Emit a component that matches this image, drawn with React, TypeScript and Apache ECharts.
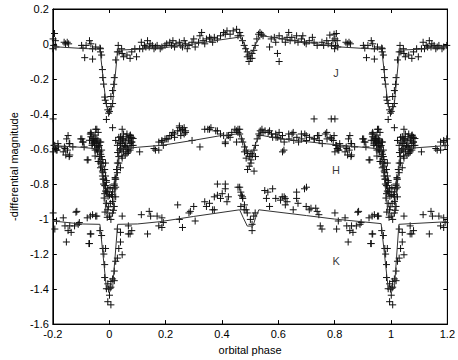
import React, { useEffect, useRef } from "react";
import * as echarts from "echarts";

// phase-folded observations (phase in [0,1)), magnitude
const jObs: [number, number][] = [
  [0.967,-0.023],[0.973,-0.063],[0.976,-0.146],[0.980,-0.229],[0.984,-0.303],[0.990,-0.340],[0.995,-0.376],[0.998,-0.395],
  [0.001,-0.385],[0.006,-0.358],[0.012,-0.340],[0.012,-0.266],[0.018,-0.192],[0.023,-0.091],[0.029,-0.045],[0.032,-0.008],
  [0.990,-0.431],[0.012,-0.478],[0.986,-0.321],[0.977,-0.192],[0.016,-0.230],[0.006,-0.300],[0.969,-0.027],[0.969,-0.045],
  [0.035,-0.045],[0.044,-0.027],[0.046,-0.054],[0.051,-0.073],[0.063,-0.063],[0.074,-0.082],[0.080,-0.045],[0.091,-0.027],
  [0.097,-0.073],[0.108,-0.027],[0.114,0.010],[0.119,-0.027],[0.125,-0.008],[0.130,-0.017],[0.136,0.019],[0.142,-0.017],
  [0.145,0.001],[0.153,-0.008],[0.159,-0.027],[0.164,-0.017],[0.170,-0.008],[0.181,-0.027],[0.187,-0.017],[0.198,-0.008],
  [0.204,0.001],[0.215,0.010],[0.221,-0.008],[0.226,0.019],[0.232,-0.017],[0.237,0.001],[0.249,0.010],[0.254,-0.008],
  [0.260,-0.017],[0.266,0.019],[0.271,0.001],[0.277,-0.027],[0.283,-0.008],[0.294,0.010],[0.300,0.029],[0.305,-0.017],
  [0.317,0.010],[0.322,0.047],[0.328,0.066],[0.333,0.019],[0.339,0.001],[0.345,0.029],[0.356,0.038],[0.361,0.029],
  [0.367,0.010],[0.373,0.038],[0.384,0.029],[0.395,0.047],[0.406,0.066],[0.412,0.056],[0.418,0.075],[0.429,0.056],
  [0.440,0.075],[0.452,0.084],[0.457,0.047],[0.463,0.066],
  [0.467,0.047],[0.473,0.019],[0.479,-0.008],[0.484,-0.027],[0.490,-0.045],[0.496,-0.063],[0.501,-0.082],[0.496,-0.100],
  [0.507,-0.054],[0.513,-0.036],[0.518,-0.008],[0.524,0.029],[0.530,0.056],[0.535,0.066],[0.541,0.056],[0.546,0.047],
  [0.490,-0.073],[0.507,-0.082],
  [0.569,-0.017],[0.575,0.029],[0.586,0.038],[0.597,-0.054],[0.603,-0.100],[0.591,0.010],[0.603,0.047],[0.614,0.029],
  [0.625,0.010],[0.631,0.038],[0.637,0.066],[0.642,0.019],[0.648,0.038],[0.659,0.019],[0.665,0.047],[0.670,0.010],
  [0.682,0.029],[0.687,0.047],[0.693,0.010],[0.699,0.001],[0.710,0.019],[0.721,0.038],[0.727,0.010],[0.738,-0.008],
  [0.755,0.010],[0.761,-0.008],[0.772,0.019],[0.777,0.001],[0.783,0.051],[0.789,-0.008],[0.794,0.019],[0.800,-0.027],
  [0.806,0.060],[0.811,-0.017],[0.798,0.056],[0.801,0.029],[0.809,0.019],[0.803,-0.008],
  [0.840,0.010],[0.845,0.001],[0.851,0.010],[0.856,0.001],[0.902,-0.008],[0.907,-0.023],[0.918,-0.008],[0.930,0.019],
  [0.935,0.001],[0.941,-0.027],[0.952,-0.017],[0.913,-0.078],[0.941,-0.086]
];

const hObs: [number, number][] = [
  [0.727,-0.428],[0.788,-0.428],[0.801,-0.428],
  // primary eclipse walls
  [0.956,-0.542],[0.961,-0.588],[0.967,-0.616],[0.973,-0.643],[0.978,-0.680],[0.984,-0.717],[0.987,-0.754],[0.990,-0.790],
  [0.995,-0.827],[0.001,-0.864],[0.012,-0.873],[0.018,-0.827],[0.021,-0.772],[0.026,-0.717],[0.029,-0.680],[0.034,-0.643],
  [0.037,-0.606],[0.040,-0.569],[0.046,-0.542],[0.051,-0.514],
  [0.939,-0.551],[0.950,-0.542],[0.956,-0.569],[0.961,-0.588],[0.967,-0.560],[0.967,-0.643],[0.973,-0.606],[0.961,-0.671],
  [0.973,-0.698],[0.978,-0.735],[0.978,-0.772],[0.984,-0.809],[0.990,-0.845],[0.987,-0.680],
  [0.023,-0.551],[0.029,-0.579],[0.034,-0.533],[0.040,-0.597],[0.046,-0.569],[0.051,-0.616],[0.057,-0.588],[0.063,-0.625],
  [0.046,-0.652],[0.034,-0.680],[0.029,-0.735],[0.023,-0.772],[0.018,-0.809],[0.012,-0.845],[0.040,-0.707],[0.068,-0.606],
  [0.080,-0.533],[0.074,-0.569],
  [0.935,-0.530],[0.940,-0.570],[0.945,-0.540],[0.950,-0.520],[0.955,-0.600],[0.960,-0.550],[0.965,-0.580],[0.970,-0.630],
  [0.970,-0.560],[0.975,-0.660],[0.930,-0.550],[0.950,-0.640],
  [0.035,-0.560],[0.040,-0.530],[0.045,-0.600],[0.050,-0.550],[0.055,-0.580],[0.060,-0.530],[0.065,-0.600],[0.070,-0.550],
  [0.075,-0.520],[0.080,-0.580],[0.085,-0.540],[0.045,-0.640],[0.030,-0.620],
  [0.976,-0.754],[0.980,-0.800],[0.984,-0.855],[0.990,-0.910],[0.995,-0.947],[0.001,-0.983],[0.006,-1.002],[0.012,-0.965],
  [0.018,-0.928],[0.023,-0.873],[0.023,-0.818],[0.021,-0.763],[0.982,-0.880],[0.987,-0.840],[0.008,-0.860],[0.012,-0.900],
  [0.993,-0.990],[0.015,-0.950],[0.997,-0.930],[0.004,-0.910],[0.985,-0.960],[0.018,-0.800],[0.990,-0.780],[0.003,-0.820],
  [0.996,-0.870],
  [0.936,-0.514],[0.942,-0.542],[0.948,-0.579],[0.953,-0.560],[0.959,-0.606],[0.965,-0.643],[0.970,-0.680],[0.976,-0.726],
  [0.981,-0.772],[0.987,-0.809],[0.993,-0.845],
  // out of eclipse
  [0.046,-0.542],[0.063,-0.514],[0.074,-0.533],[0.080,-0.560],[0.051,-0.597],[0.068,-0.616],[0.057,-0.634],[0.046,-0.487],
  [0.057,-0.560],[0.063,-0.588],[0.068,-0.542],[0.074,-0.523],[0.080,-0.560],[0.074,-0.606],[0.085,-0.579],[0.108,-0.616],
  [0.164,-0.606],[0.176,-0.560],[0.187,-0.551],[0.192,-0.579],[0.159,-0.597],[0.176,-0.606],[0.187,-0.560],[0.198,-0.542],
  [0.209,-0.542],[0.221,-0.523],[0.232,-0.514],[0.243,-0.496],[0.249,-0.478],[0.254,-0.523],[0.260,-0.487],[0.266,-0.478],
  [0.271,-0.496],[0.294,-0.551],[0.322,-0.588],[0.339,-0.487],[0.350,-0.487],[0.361,-0.478],[0.378,-0.496],[0.406,-0.523],
  [0.412,-0.560],[0.423,-0.523],[0.435,-0.505],[0.446,-0.487],[0.457,-0.505],[0.463,-0.487],
  [0.204,-0.542],[0.215,-0.523],[0.226,-0.505],[0.232,-0.533],[0.249,-0.468],[0.254,-0.496],[0.260,-0.487],[0.271,-0.505],
  [0.266,-0.514],[0.356,-0.487],[0.384,-0.496],[0.395,-0.514],[0.412,-0.569],[0.418,-0.523],[0.429,-0.533],[0.452,-0.496],
  // secondary eclipse
  [0.457,-0.487],[0.463,-0.514],[0.469,-0.542],[0.452,-0.560],[0.474,-0.560],[0.480,-0.588],[0.486,-0.606],[0.491,-0.625],
  [0.497,-0.643],[0.503,-0.662],[0.508,-0.634],[0.514,-0.606],[0.519,-0.579],[0.525,-0.542],[0.531,-0.514],[0.536,-0.496],
  [0.542,-0.487],[0.553,-0.496],[0.564,-0.505],[0.576,-0.514],[0.592,-0.533],[0.497,-0.698],[0.491,-0.717],[0.514,-0.726],
  [0.503,-0.680],[0.486,-0.652],[0.519,-0.643],[0.480,-0.616],[0.503,-0.625],
  [0.535,-0.523],[0.546,-0.505],[0.569,-0.496],[0.580,-0.533],[0.591,-0.514],[0.603,-0.505],[0.620,-0.606],[0.637,-0.514],
  [0.653,-0.505],[0.682,-0.514],[0.699,-0.523],[0.727,-0.542],[0.744,-0.523],[0.772,-0.505],[0.789,-0.542],
  [0.598,-0.533],[0.609,-0.542],[0.615,-0.523],[0.621,-0.560],[0.615,-0.616],[0.638,-0.542],[0.649,-0.514],[0.655,-0.551],
  [0.666,-0.533],[0.672,-0.560],[0.683,-0.542],[0.694,-0.514],[0.700,-0.551],[0.711,-0.533],[0.728,-0.542],[0.739,-0.523],
  [0.745,-0.551],[0.756,-0.569],[0.767,-0.514],[0.773,-0.542],[0.784,-0.533],[0.795,-0.551],
  [0.807,-0.579],[0.801,-0.616],[0.812,-0.606],[0.818,-0.569],[0.841,-0.588],[0.846,-0.634],[0.852,-0.606],[0.858,-0.569],
  [0.858,-0.643],[0.903,-0.542],[0.908,-0.560],[0.925,-0.662],
  [0.798,-0.523],[0.804,-0.579],[0.809,-0.597],[0.815,-0.606],[0.820,-0.588],[0.837,-0.616],[0.843,-0.597],[0.849,-0.542],
  [0.854,-0.523],[0.860,-0.569],[0.860,-0.634],[0.871,-0.588],[0.899,-0.542],[0.905,-0.560],[0.911,-0.588],[0.922,-0.662],
  [0.933,-0.514],[0.939,-0.579],[0.945,-0.560],[0.956,-0.487],[0.961,-0.505],[0.950,-0.606],
  [0.935,-0.505],[0.952,-0.487],[0.947,-0.560],[0.958,-0.616],[0.964,-0.671],[0.969,-0.707]
];

const kObs: [number, number][] = [
  [0.801,-0.965],[0.807,-1.057],[0.813,-1.011],[0.837,-0.993],[0.843,-1.039],[0.848,-1.131],[0.854,-1.066],[0.860,-1.039],
  [0.865,-1.076],[0.877,-1.039],[0.882,-0.961],[0.894,-1.020],[0.922,-0.993],[0.928,-1.140],[0.933,-0.983],[0.933,-1.085],
  [0.956,-0.983],[0.967,-1.066],[0.973,-1.094],[0.978,-1.168],[0.984,-1.260],[0.984,-1.334],[0.990,-1.398],[0.995,-1.472],
  [0.001,-1.435],[0.006,-1.490],[0.006,-1.389],[0.012,-1.342],[0.018,-1.297],[0.023,-1.241],[0.029,-1.223],[0.034,-1.168],
  [0.040,-1.131],[0.046,-1.204],[0.040,-1.076],[0.029,-1.057],[0.006,-1.356],[0.995,-1.370],[0.018,-1.352],[0.987,-1.168],
  [0.981,-1.200],[0.998,-1.400],[0.003,-1.395],
  [0.046,-0.983],[0.068,-1.039],[0.074,-1.085],[0.080,-1.066],[0.068,-1.085],[0.114,-0.975],[0.136,-1.085],[0.142,-0.956],
  [0.147,-0.983],[0.170,-0.983],[0.176,-1.039],[0.187,-0.993],[0.192,-1.020],[0.187,-1.048],
  [0.243,-0.919],[0.249,-1.002],[0.260,-1.048],[0.283,-0.965],[0.288,-0.956],[0.300,-0.928],[0.305,-1.011],[0.339,-0.901],
  [0.345,-0.928],[0.356,-0.910],[0.367,-0.947],[0.373,-0.873],[0.384,-0.864],[0.395,-0.882],[0.401,-0.855],[0.412,-0.827],
  [0.418,-0.901],[0.423,-0.873],[0.373,-0.947],[0.384,-0.800],[0.412,-0.800],[0.457,-0.818],
  [0.463,-0.818],[0.469,-0.864],[0.474,-0.882],[0.480,-0.919],[0.486,-0.947],
  [0.467,-0.846],[0.473,-0.873],[0.467,-0.928],[0.479,-0.947],[0.490,-0.965],[0.501,-1.002],[0.507,-1.030],[0.507,-1.066],
  [0.518,-0.965],[0.513,-0.983],[0.552,-0.837],[0.563,-0.846],[0.558,-0.882],[0.569,-0.928],[0.580,-0.827],[0.591,-0.882],
  [0.608,-0.892],[0.614,-0.873],[0.625,-0.882],[0.631,-0.901],[0.625,-0.919],[0.653,-0.947],[0.665,-0.846],[0.665,-0.882],
  [0.670,-0.910],[0.693,-0.827],[0.699,-0.928],[0.710,-0.947],[0.716,-0.938],[0.733,-0.938],[0.738,-0.956],[0.744,-0.975],
  [0.749,-1.039],[0.755,-1.057],[0.621,-0.873],[0.700,-0.818],
  [0.885,-0.956],[0.890,-1.030],[0.930,-1.140],[0.935,-1.085],[0.941,-0.975],[0.952,-0.983]
];

// model light curves
const jModel: [number, number][] = [
  [-0.2,-0.015],[-0.1,-0.025],[-0.033,-0.03],[-0.012,-0.33],[-0.004,-0.39],[0.004,-0.395],[0.012,-0.34],[0.03,-0.035],
  [0.1,-0.03],[0.2,-0.02],[0.3,0.0],[0.4,0.025],[0.465,0.04],[0.48,0.0],[0.49,-0.04],[0.5,-0.055],[0.51,-0.04],
  [0.52,0.0],[0.535,0.04],[0.55,0.045],[0.7,0.01],[0.8,-0.015],[0.9,-0.025],[0.967,-0.03],[0.988,-0.33],[0.996,-0.39],
  [1.004,-0.395],[1.012,-0.34],[1.03,-0.035],[1.1,-0.03],[1.2,-0.015]
];
const hModel: [number, number][] = [
  [-0.2,-0.58],[-0.1,-0.59],[-0.035,-0.6],[-0.01,-0.97],[0.012,-0.97],[0.035,-0.6],[0.1,-0.59],[0.19,-0.578],
  [0.3,-0.55],[0.39,-0.525],[0.465,-0.512],[0.478,-0.56],[0.49,-0.615],[0.51,-0.615],[0.522,-0.56],[0.535,-0.52],
  [0.6,-0.54],[0.77,-0.57],[0.94,-0.596],[0.965,-0.6],[0.99,-0.97],[1.012,-0.97],[1.035,-0.6],[1.07,-0.595],[1.2,-0.58]
];
const kModel: [number, number][] = [
  [-0.2,-1.011],[-0.1,-1.028],[-0.033,-1.03],[-0.01,-1.395],[0.012,-1.395],[0.03,-1.03],[0.1,-1.028],[0.18,-1.015],
  [0.3,-0.985],[0.463,-0.947],[0.475,-0.99],[0.49,-1.04],[0.51,-1.04],[0.52,-0.99],[0.531,-0.947],[0.7,-0.98],
  [0.8,-1.0],[0.965,-1.026],[0.99,-1.395],[1.012,-1.395],[1.028,-1.03],[1.2,-1.015]
];

const bandLabels = ["J", "H", "K"];
const bandLabelPos: [number, number][] = [[0.805, -0.165], [0.805, -0.722], [0.805, -1.241]];

function unfold(arr: [number, number][]) {
  const out: [number, number][] = [];
  for (const [p, m] of arr) {
    out.push([p, m]);
    if (p <= 0.2) out.push([p + 1, m]);
    if (p >= 0.8) out.push([p - 1, m]);
  }
  return out;
}

const FONT = "'Liberation Sans', Arial, Helvetica, sans-serif";
const PLUS = "path://M0,5L10,5M5,0L5,10";

export default function App() {
  const ref = useRef<HTMLDivElement>(null);
  useEffect(() => {
    const chart = echarts.init(ref.current!, undefined, { renderer: "svg" });
    const fmt = (v: number) => String(parseFloat(v.toFixed(1)));
    const tickIn = { show: true, inside: true, length: 4, lineStyle: { color: "#000" } };
    const axLine = { show: true, onZero: false, lineStyle: { color: "#000" } };
    const scatter = (data: [number, number][]) => ({
      type: "scatter",
      data: unfold(data),
      symbol: PLUS,
      symbolSize: 7,
      itemStyle: { color: "rgba(0,0,0,0)", borderColor: "#111", borderWidth: 1, opacity: 1 },
      silent: true,
      z: 2,
    });
    const line = (data: [number, number][]) => ({
      type: "line",
      data,
      showSymbol: false,
      symbol: "none",
      lineStyle: { color: "#333", width: 1 },
      silent: true,
      z: 3,
    });
    chart.setOption({
      animation: false,
      grid: { left: 34, right: 10, top: 9, bottom: 25, show: true, borderColor: "#000", borderWidth: 1, backgroundColor: "#fff" },
      xAxis: [
        {
          type: "value", min: -0.2, max: 1.2, interval: 0.2,
          name: "orbital phase", nameLocation: "middle", nameGap: 18,
          nameTextStyle: { fontFamily: FONT, fontSize: 11, color: "#000" },
          axisLine: axLine,
          axisTick: tickIn,
          axisLabel: { formatter: fmt, fontFamily: FONT, fontSize: 11, color: "#000", margin: 4 },
          splitLine: { show: false },
        },
        {
          type: "value", position: "top", min: -0.2, max: 1.2, interval: 0.2,
          axisLine: axLine,
          axisTick: tickIn, axisLabel: { show: false }, splitLine: { show: false },
        },
      ],
      yAxis: [
        {
          type: "value", min: -1.6, max: 0.2, interval: 0.2,
          name: "-differential magnitude", nameLocation: "middle", nameGap: 26, nameRotate: 90,
          nameTextStyle: { fontFamily: FONT, fontSize: 11, color: "#000" },
          axisLine: axLine,
          axisTick: tickIn,
          axisLabel: { formatter: fmt, fontFamily: FONT, fontSize: 11, color: "#000", margin: 4 },
          splitLine: { show: false },
        },
        {
          type: "value", position: "right", min: -1.6, max: 0.2, interval: 0.2,
          axisLine: axLine,
          axisTick: tickIn, axisLabel: { show: false }, splitLine: { show: false },
        },
      ],
      series: [
        scatter(jObs),
        scatter(hObs),
        scatter(kObs),
        line(jModel),
        line(hModel),
        line(kModel),
        {
          type: "scatter",
          symbolSize: 0,
          silent: true,
          data: bandLabels.map((n, i) => ({ name: n, value: bandLabelPos[i] })),
          label: { show: true, position: "inside", formatter: "{b}", fontFamily: FONT, fontSize: 11, color: "#000" },
          z: 4,
        },
      ],
    });
    return () => chart.dispose();
  }, []);
  return <div ref={ref} style={{ width: 458, height: 360, position: "absolute", left: 0, top: 0 }} />;
}
